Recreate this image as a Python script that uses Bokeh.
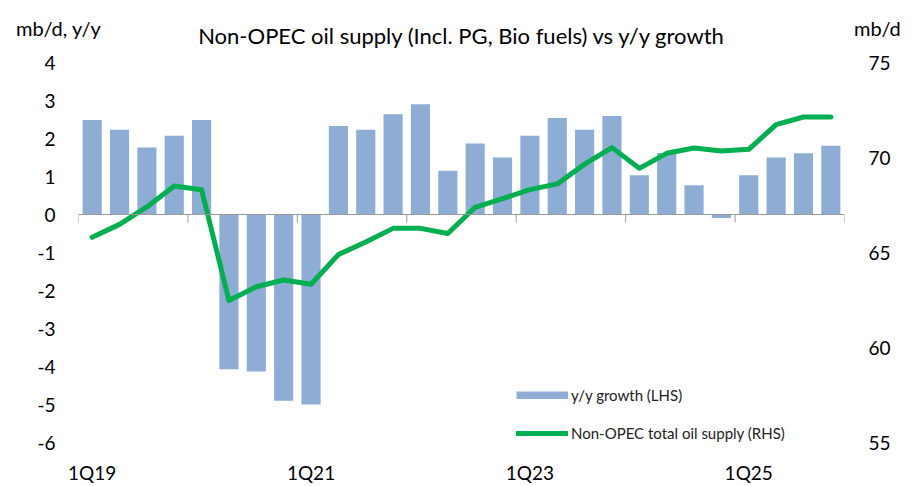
from bokeh.plotting import figure
from bokeh.layouts import column
from bokeh.models import Range1d, LinearAxis, FixedTicker, Legend, LegendItem, Span, Div
from bokeh.embed import file_html
from bokeh.resources import INLINE

quarters = ["1Q19", "2Q19", "3Q19", "4Q19", "1Q20", "2Q20", "3Q20", "4Q20",
            "1Q21", "2Q21", "3Q21", "4Q21", "1Q22", "2Q22", "3Q22", "4Q22",
            "1Q23", "2Q23", "3Q23", "4Q23", "1Q24", "2Q24", "3Q24", "4Q24",
            "1Q25", "2Q25", "3Q25", "4Q25"]
growth = [2.49, 2.23, 1.76, 2.07, 2.49, -4.07, -4.13, -4.90,
          -5.00, 2.33, 2.23, 2.64, 2.90, 1.15, 1.87, 1.50,
          2.07, 2.54, 2.23, 2.59, 1.03, 1.62, 0.77, -0.09,
          1.03, 1.50, 1.61, 1.81]
supply = [65.8, 66.48, 67.4, 68.5, 68.3, 62.47, 63.2, 63.55,
          63.33, 64.89, 65.55, 66.27, 66.27, 66.0, 67.38, 67.83,
          68.31, 68.61, 69.65, 70.52, 69.43, 70.22, 70.5, 70.34,
          70.43, 71.73, 72.13, 72.13]
lhs_ticks = [-6, -5, -4, -3, -2, -1, 0, 1, 2, 3, 4]
rhs_ticks = [55, 60, 65, 70, 75]
label_quarters = ["1Q19", "1Q21", "1Q23", "1Q25"]
year_starts = [0, 4, 8, 12, 16, 20, 24, 28]
title_text = "Non-OPEC oil supply (Incl. PG, Bio fuels) vs y/y growth"
lhs_title = "mb/d, y/y"
rhs_title = "mb/d"

FONT = "Lato"
BAR = "#8EADD5"
GREEN = "#00B050"

xs = [i + 0.5 for i in range(len(quarters))]

# header with the chart title and the two axis titles
span_style = "position:absolute;white-space:nowrap;font-family:Lato,sans-serif;color:#000;margin:0;padding:0;"
header_html = (
    '<div style="position:relative;width:912px;height:50px;margin:0;padding:0;">'
    f'<span style="{span_style}left:16px;top:18px;font-size:20px;line-height:20px;">{lhs_title}</span>'
    f'<span style="{span_style}left:78px;width:766px;text-align:center;top:25px;font-size:22px;line-height:22px;">{title_text}</span>'
    f'<span style="{span_style}left:854px;top:18px;font-size:20px;line-height:20px;">{rhs_title}</span>'
    '</div>'
)
header = Div(text=header_html, width=912, height=50, margin=(0, 0, 0, 0))

p = figure(width=912, height=436, title=None, x_range=Range1d(0, len(quarters)),
           y_range=Range1d(min(lhs_ticks), max(lhs_ticks)),
           output_backend="svg", toolbar_location=None,
           min_border_left=78, min_border_right=68, min_border_top=12,
           min_border_bottom=39, outline_line_color=None,
           background_fill_color="white", border_fill_color="white",
           margin=(0, 0, 0, 0))
p.extra_y_ranges = {"rhs": Range1d(min(rhs_ticks), max(rhs_ticks))}
p.grid.visible = False

# left axis
ya = p.yaxis[0]
ya.ticker = FixedTicker(ticks=lhs_ticks)
ya.major_label_overrides = {t: str(t) for t in lhs_ticks}
ya.axis_line_color = None
ya.major_tick_line_color = None
ya.minor_tick_line_color = None
ya.major_tick_out = 0
ya.major_label_standoff = 23
ya.major_label_text_font = FONT
ya.major_label_text_font_size = "19px"
ya.major_label_text_color = "#000000"

# right axis
ra = LinearAxis(y_range_name="rhs", ticker=FixedTicker(ticks=rhs_ticks))
ra.axis_line_color = None
ra.major_tick_line_color = None
ra.minor_tick_line_color = None
ra.major_tick_out = 0
ra.major_label_standoff = 24
ra.major_label_text_font = FONT
ra.major_label_text_font_size = "19px"
ra.major_label_text_color = "#000000"
p.add_layout(ra, "right")

# bottom axis (labels only)
xa = p.xaxis[0]
label_pos = [xs[quarters.index(q)] for q in label_quarters]
xa.ticker = FixedTicker(ticks=label_pos)
xa.major_label_overrides = {pos: q for pos, q in zip(label_pos, label_quarters)}
xa.axis_line_color = None
xa.major_tick_line_color = None
xa.minor_tick_line_color = None
xa.major_tick_out = 0
xa.major_label_standoff = 18
xa.major_label_text_font = FONT
xa.major_label_text_font_size = "19px"
xa.major_label_text_color = "#000000"
xa.major_label_text_line_height = 1.0

# zero line and year tick marks
p.add_layout(Span(location=0, dimension="width", line_color="#999999", line_width=1))
p.segment(x0=year_starts, y0=[0] * len(year_starts), x1=year_starts,
          y1=[-0.21] * len(year_starts), line_color="#999999", line_width=1)

bars = p.vbar(x=xs, top=growth, bottom=0, width=0.7, fill_color=BAR, line_color=None)
line = p.line(x=xs, y=supply, y_range_name="rhs", line_color=GREEN, line_width=5,
              line_join="round", line_cap="round")

swatch = p.line(x=xs[:1], y=[float("nan")], line_color=BAR, line_width=8)
legend = Legend(items=[LegendItem(label="y/y growth (LHS)", renderers=[swatch]),
                       LegendItem(label="Non-OPEC total oil supply (RHS)", renderers=[line])],
                location=(438, 0), glyph_width=52, glyph_height=8, spacing=20,
                padding=0, margin=0, label_standoff=3,
                label_text_font=FONT, label_text_font_size="15px",
                label_text_color="#222222",
                border_line_color=None, background_fill_alpha=0)
p.add_layout(legend)

page = column(header, p, spacing=0, margin=(0, 0, 0, 0))
open("out.html", "w").write(file_html(page, INLINE))
